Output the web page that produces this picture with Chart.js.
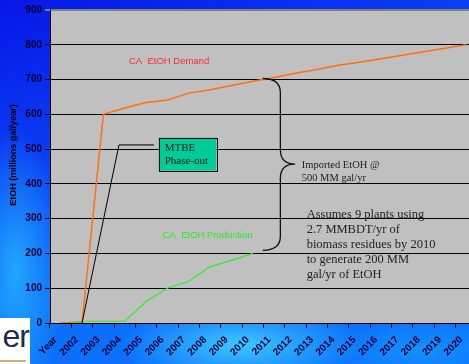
<!DOCTYPE html>
<html>
<head>
<meta charset="utf-8">
<script src="https://cdn.jsdelivr.net/npm/chart.js@4"></script>
<style>
  html, body { margin: 0; padding: 0; }
  body {
    width: 469px; height: 364px; overflow: hidden; position: relative;
    background:
      radial-gradient(ellipse 120px 40px at 240px 345px, rgba(70,215,255,0.85), rgba(70,215,255,0)),
      radial-gradient(ellipse 50px 140px at 15px 270px, rgba(40,190,255,0.75), rgba(40,190,255,0)),
      radial-gradient(ellipse 90px 30px at 420px 350px, rgba(30,160,255,0.6), rgba(30,160,255,0)),
      linear-gradient(160deg, #0716e6 0%, #0a3cf2 30%, #0c6cfc 60%, #0a78ff 100%);
  }
  #chart-etoh { position: absolute; left: 0; top: 0; }
  .logo {
    position: absolute; left: 0; top: 318px; width: 30px; height: 46px;
    background: #fff; overflow: hidden;
  }
  .logo span {
    position: absolute; right: 1px; top: 0px;
    font: 32px 'Liberation Sans', Arial, sans-serif; color: #1c2c50; letter-spacing: -1px;
  }
  .logo i { position: absolute; left: 0; bottom: 2px; width: 26px; height: 2px; background: #c9b273; }
</style>
</head>
<body>
<canvas id="chart-etoh" width="490" height="364"></canvas>
<div class="logo"><span>er</span><i></i></div>
<script>
// ---- Data (millions gal/year) ----
const years = ['Year', '2002', '2003', '2004', '2005', '2006', '2007', '2008', '2009', '2010',
               '2011', '2012', '2013', '2014', '2015', '2016', '2017', '2018', '2019', '2020'];
const demand     = [0, 0, 600, 618, 634, 641, 661, 671, 683, 695, 706, 718, 729, 741, 750, 760, 770, 780, 790, 800];
const production = [0, 5, 5, 5, 62, 100, 120, 162, 180, 200, null, null, null, null, null, null, null, null, null, null];

const SANS  = "'Liberation Sans', Arial, sans-serif";
const SERIF = "'Liberation Serif', 'Times New Roman', serif";

// ---- Plot background + annotations ----
const plotBg = {
  id: 'plot-bg',
  beforeDraw(chart) {
    const { ctx, chartArea: a } = chart;
    ctx.save();
    ctx.fillStyle = '#C0C0C0';
    ctx.fillRect(a.left, a.top, a.right - a.left, a.bottom - a.top);
    ctx.restore();
  }
};

const notes = {
  id: 'notes',
  afterDatasetsDraw(chart) {
    const { ctx } = chart;
    const X = i => chart.scales.x.getPixelForValue(i);
    const Y = v => chart.scales.y.getPixelForValue(v);
    ctx.save();

    // series labels
    ctx.textBaseline = 'middle';
    ctx.textAlign = 'left';
    ctx.font = `9.5px ${SANS}`;
    ctx.fillStyle = '#FF2A2A';
    ctx.fillText('CA  EtOH Demand', X(3.2), Y(751));
    ctx.fillStyle = '#22EE22';
    ctx.fillText('CA  EtOH Production', X(4.78), Y(252));

    // MTBE pointer line
    ctx.strokeStyle = '#000';
    ctx.lineWidth = 1;
    ctx.beginPath();
    ctx.moveTo(X(1), Y(0));
    ctx.lineTo(X(2.73), Y(512));
    ctx.lineTo(X(4.37), Y(512));
    ctx.stroke();

    // MTBE box
    const bx = X(4.59), by = Y(533), bw = X(7.29) - bx, bh = Y(438) - by;
    ctx.fillStyle = '#00CC99';
    ctx.fillRect(bx, by, bw, bh);
    ctx.strokeRect(Math.round(bx) + 0.5, Math.round(by) + 0.5, Math.round(bw), Math.round(bh));
    ctx.fillStyle = '#0a1a10';
    ctx.font = `11px ${SERIF}`;
    ctx.fillText('MTBE', bx + 6, by + 10);
    ctx.fillText('Phase-out', bx + 6, by + 23.5);

    // curly brace
    const xa = X(9.46), xb = X(10.29), xc = X(10.98);
    const ya = Y(703), ym = Y(457), yb = Y(209), r = 14;
    ctx.lineWidth = 1.3;
    ctx.strokeStyle = '#111';
    ctx.beginPath();
    ctx.moveTo(xa, ya);
    ctx.quadraticCurveTo(xb, ya, xb, ya + r);
    ctx.lineTo(xb, ym - r);
    ctx.quadraticCurveTo(xb, ym, xc, ym);
    ctx.moveTo(xc, ym);
    ctx.quadraticCurveTo(xb, ym, xb, ym + r);
    ctx.lineTo(xb, yb - r);
    ctx.quadraticCurveTo(xb, yb, xa, yb);
    ctx.stroke();

    // text notes
    ctx.fillStyle = '#222';
    ctx.font = `10.5px ${SERIF}`;
    const ix = X(11.29), iy = Y(455);
    ctx.fillText('Imported EtOH @', ix, iy);
    ctx.fillText('500 MM gal/yr', ix, iy + 13.5);

    ctx.font = `12.5px ${SERIF}`;
    const ax = X(11.52), ay = Y(312.6);
    ['Assumes 9 plants using', '2.7 MMBDT/yr of', 'biomass residues by 2010',
     'to generate 200 MM', 'gal/yr of EtOH'].forEach((t, k) => ctx.fillText(t, ax, ay + k * 15));

    // y axis title
    ctx.translate(14, 155);
    ctx.rotate(-Math.PI / 2);
    ctx.textAlign = 'center';
    ctx.fillStyle = '#000';
    ctx.font = `bold 9px ${SANS}`;
    ctx.fillText('EtOH (millions gal/year)', 0, 0);
    ctx.restore();
  }
};

new Chart(document.getElementById('chart-etoh'), {
  type: 'line',
  data: {
    labels: years,
    datasets: [
      { label: 'CA EtOH Demand', data: demand, borderColor: '#FF7010', borderWidth: 1.5 },
      { label: 'CA EtOH Production', data: production, borderColor: '#2BF02B', borderWidth: 1.2 }
    ]
  },
  options: {
    responsive: false,
    animation: false,
    layout: { padding: { left: 0, top: 10, right: 13, bottom: 0 } },
    elements: { point: { radius: 0 }, line: { tension: 0 } },
    plugins: { legend: { display: false }, tooltip: { enabled: false } },
    scales: {
      x: {
        offset: true,
        grid: { offset: true, drawOnChartArea: false, color: '#000', tickLength: 5 },
        border: { color: '#000' },
        ticks: {
          autoSkip: false, minRotation: 45, maxRotation: 45, padding: 6, labelOffset: -5,
          color: '#000033', font: { family: SANS, size: 10, weight: 'bold' }
        },
        afterFit: s => { s.height = 41; }
      },
      y: {
        min: 0, max: 900,
        grid: {
          color: c => (c.tick && c.tick.value === 900) ? '#808080' : '#000',
          lineWidth: c => (c.tick && c.tick.value === 900) ? 2 : 1,
          tickLength: 5
        },
        border: { color: '#000' },
        ticks: { stepSize: 100, padding: 3, color: '#000033', font: { family: SANS, size: 10, weight: 'bold' } },
        afterFit: s => { s.width = 50; }
      }
    }
  },
  plugins: [plotBg, notes]
});
</script>
</body>
</html>
